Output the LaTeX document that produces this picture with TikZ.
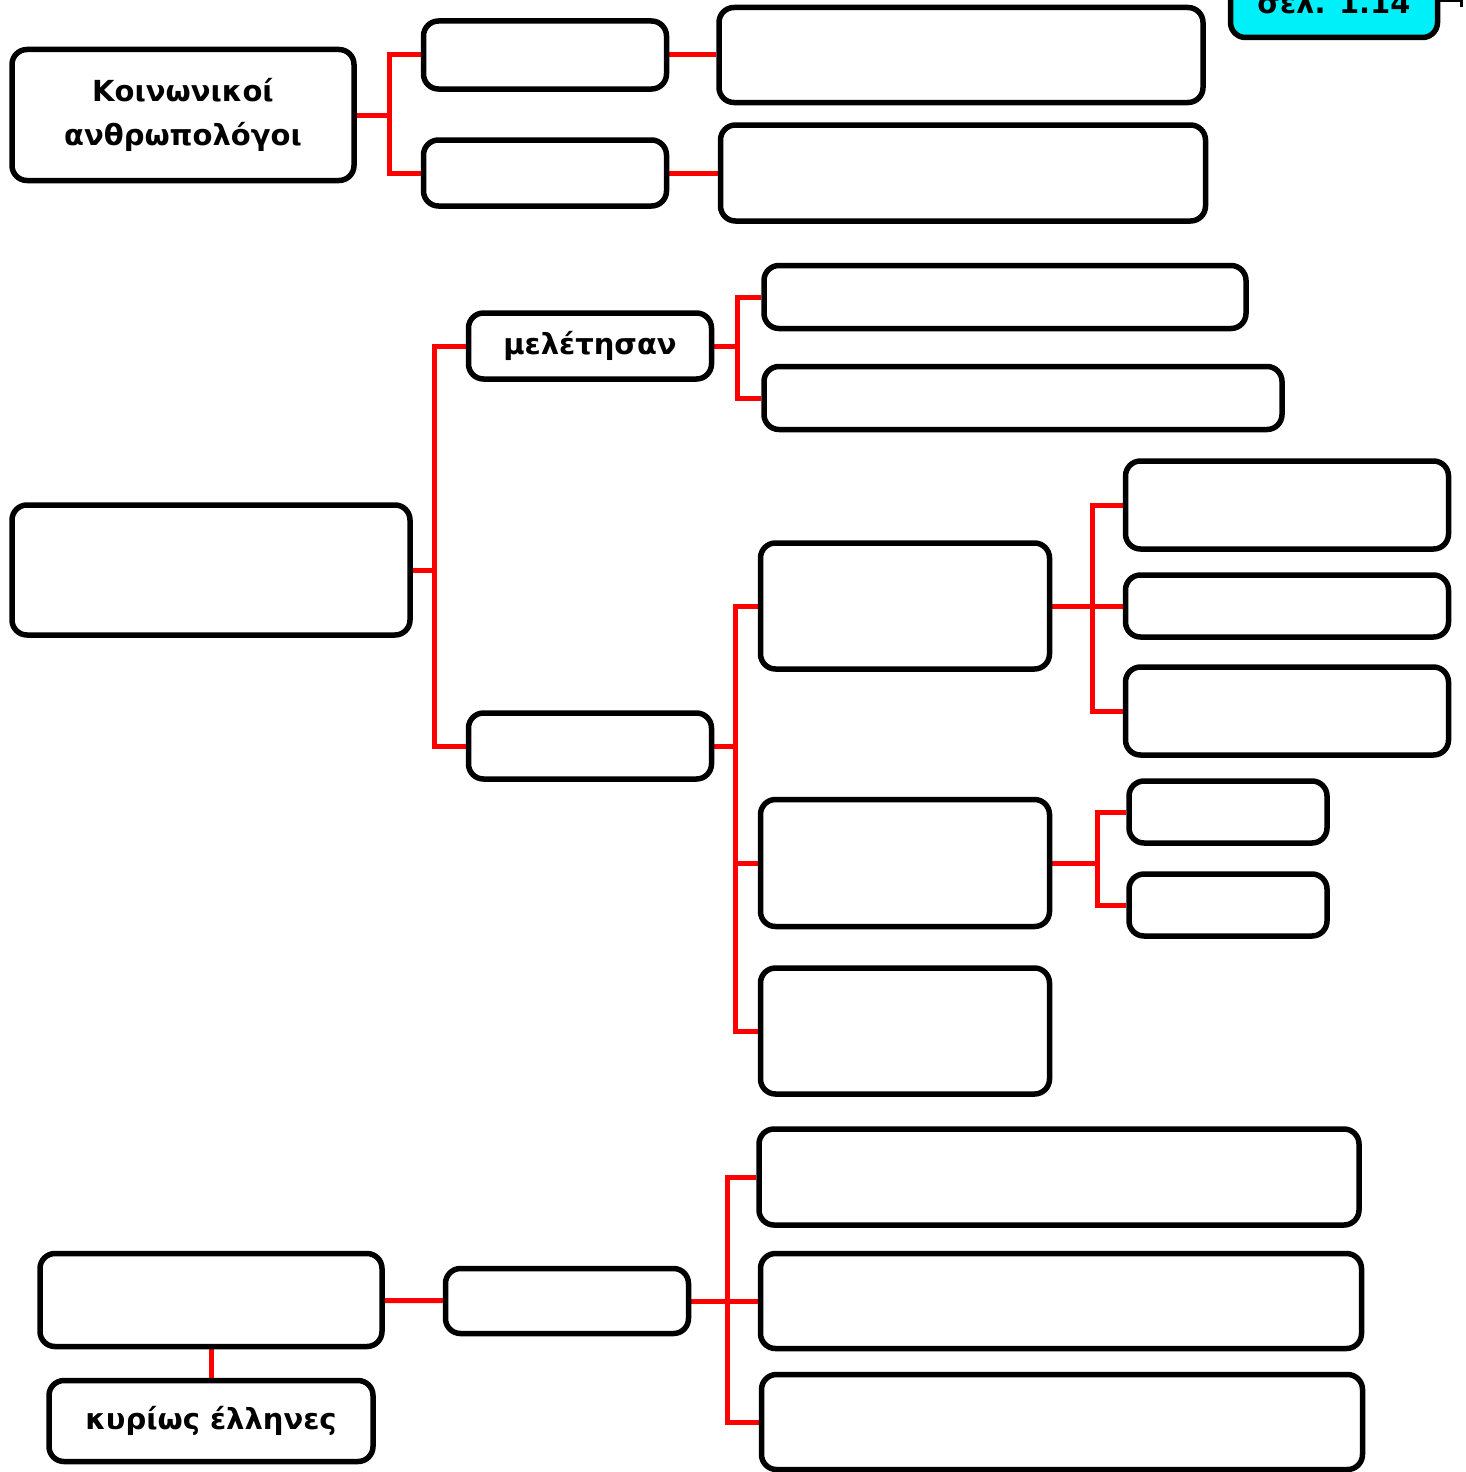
\documentclass[tikz,border=0pt]{standalone}
\usepackage{fontspec}
\setmainfont{DejaVu Sans}
\pgfdeclarelayer{links}
\pgfsetlayers{links,main}
\definecolor{pagecyan}{RGB}{0,240,250}

\tikzset{
  box/.style={draw=black, line width=5.5pt, rounded corners=15pt, fill=white,
    font=\bfseries\fontsize{29}{44}\selectfont, align=center, inner sep=0pt},
  link/.style={draw=red, line width=5pt},
}

\begin{document}
\begin{tikzpicture}[x=1pt,y=-1pt]
	\useasboundingbox (0,0) rectangle (1466,1472);
	\clip (0,0) rectangle (1466,1472);

	% top group
	\node[box, minimum width=342, minimum height=131] (anthro) at (183,115) {Κοινωνικοί\\ανθρωπολόγοι};
	\node[box, minimum width=243, minimum height=68] (topa) at (545,55) {};
	\node[box, minimum width=243, minimum height=66] (topb) at (545,173) {};
	\node[box, minimum width=484, minimum height=95] (topc) at (961,55) {};
	\node[box, minimum width=485, minimum height=96] (topd) at (963,173) {};
	\node[box, fill=pagecyan, minimum width=207, minimum height=69] (page) at (1334,3) {σελ. 1.14};
	\draw[line width=3pt] (1438,1) -- (1461,1) -- (1461,7);

	% middle group
	\node[box, minimum width=398, minimum height=130] (study) at (211,570) {};
	\node[box, minimum width=243, minimum height=66] (melet) at (590,346) {μελέτησαν};
	\node[box, minimum width=243, minimum height=66] (other) at (590,746) {};
	\node[box, minimum width=482, minimum height=63] (mela) at (1005,297) {};
	\node[box, minimum width=518, minimum height=63] (melb) at (1023,398) {};
	\node[box, minimum width=289, minimum height=126] (otha) at (905,606) {};
	\node[box, minimum width=289, minimum height=127] (othb) at (905,863) {};
	\node[box, minimum width=289, minimum height=126] (othc) at (905,1031) {};
	\node[box, minimum width=323, minimum height=88] (subaa) at (1287,505) {};
	\node[box, minimum width=323, minimum height=62] (subab) at (1287,606) {};
	\node[box, minimum width=323, minimum height=88] (subac) at (1287,711) {};
	\node[box, minimum width=198, minimum height=62] (subba) at (1228,812) {};
	\node[box, minimum width=198, minimum height=62] (subbb) at (1228,905) {};

	% bottom group
	\node[box, minimum width=342, minimum height=93] (greek) at (211,1300) {};
	\node[box, minimum width=324, minimum height=81] (mainly) at (211,1421) {κυρίως έλληνες};
	\node[box, minimum width=243, minimum height=65] (mid) at (567,1301) {};
	\node[box, minimum width=600, minimum height=96] (bota) at (1059,1177) {};
	\node[box, minimum width=601, minimum height=95] (botb) at (1061,1301) {};
	\node[box, minimum width=601, minimum height=95] (botc) at (1062,1422) {};

	\begin{pgfonlayer}{links}
	\draw[link] (anthro.east) -- ++(33,0) coordinate (f1) |- (topa.west);
	\draw[link] (f1) |- (topb.west);
	\draw[link] (topa) -- (topc);
	\draw[link] (topb) -- (topd);

	\draw[link] (study.east) -- ++(22,0) coordinate (f2) |- (melet.west);
	\draw[link] (f2) |- (other.west);
	\draw[link] (melet.east) -- ++(23,0) coordinate (f3) |- (mela.west);
	\draw[link] (f3) |- (melb.west);
	\draw[link] (other.east) -- ++(21,0) coordinate (f4) |- (otha.west);
	\draw[link] (f4) |- (othb.west);
	\draw[link] (f4) |- (othc.west);
	\draw[link] (otha.east) -- ++(40,0) coordinate (f5) |- (subaa.west);
	\draw[link] (f5) -- (subab.west);
	\draw[link] (f5) |- (subac.west);
	\draw[link] (othb.east) -- ++(45,0) coordinate (f6) |- (subba.west);
	\draw[link] (f6) |- (subbb.west);

	\draw[link] (greek) -- (mid);
	\draw[link] (greek) -- (mainly);
	\draw[link] (mid.east) -- ++(36,0) coordinate (f7) |- (bota.west);
	\draw[link] (f7) -- (botb.west);
	\draw[link] (f7) |- (botc.west);
	\end{pgfonlayer}
\end{tikzpicture}
\end{document}
